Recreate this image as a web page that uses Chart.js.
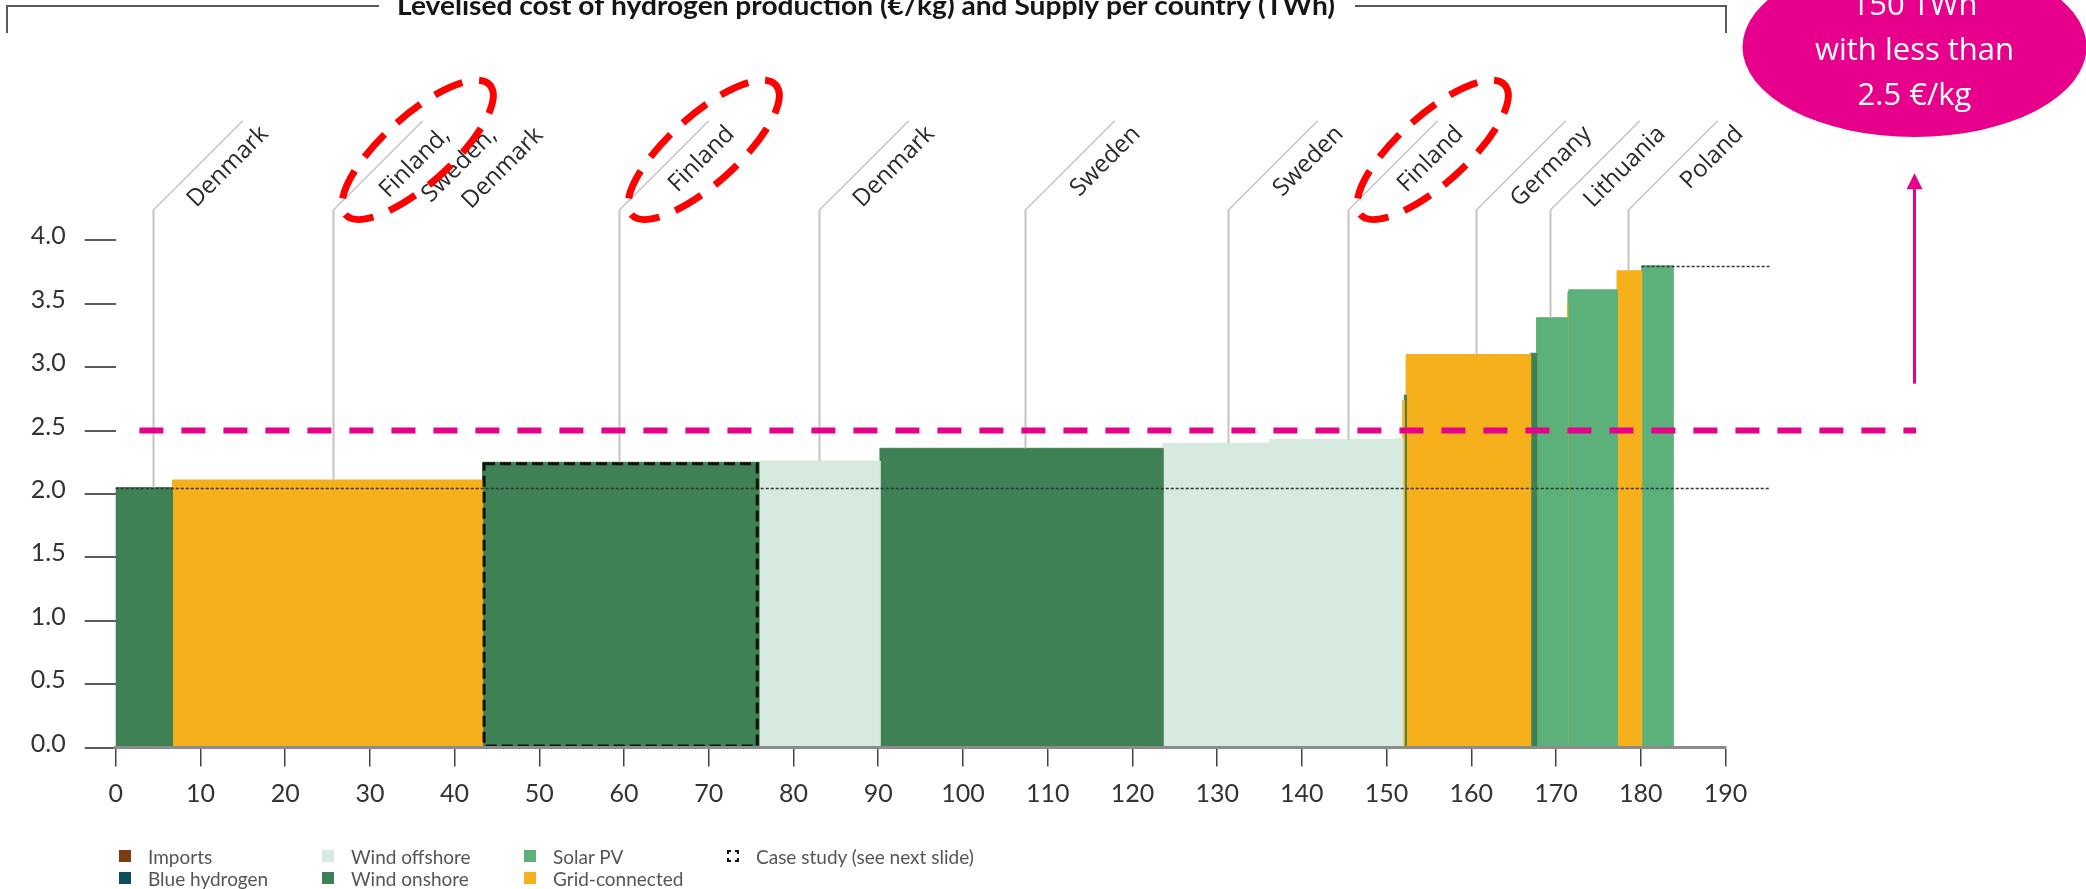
<!DOCTYPE html>
<html>
<head>
<meta charset="utf-8">
<script src="https://cdn.jsdelivr.net/npm/chart.js@4.4.1/dist/chart.umd.min.js"></script>
<style>
  html, body { margin: 0; padding: 0; background: #fff; }
  #wrap { position: relative; width: 2086px; height: 889px; overflow: hidden; }
  #c { position: absolute; left: 0; top: 0; }
  .item { position: absolute; height: 22px; display: flex; align-items: center; white-space: nowrap;
          font-family: Lato, sans-serif; font-size: 19px; color: #555; }
  .sw { display: block; width: 12px; height: 12px; margin-right: 17px; box-sizing: border-box; flex: none; line-height: 0; }
  .sw svg { display: block; }
</style>
</head>
<body>
<div id="wrap">
  <canvas id="c" width="2086" height="889"></canvas>
  <div id="legend"></div>
</div>
<script>
// Supply steps of the merit-order curve, left to right
const supplyTWh  = [6.7, 36.6, 32.6, 14.3, 33.4, 12.6, 15.1, 0.6, 0.2, 0.2, 14.7, 0.7, 3.6, 0.1, 0.1, 5.7, 2.9, 3.7];
const costEurKg  = [2.05, 2.11, 2.25, 2.26, 2.36, 2.40, 2.43, 2.44, 2.74, 2.78, 3.10, 3.11, 3.39, 3.51, 3.59, 3.61, 3.76, 3.80];
const technology = ['Wind onshore', 'Grid-connected', 'Wind onshore', 'Wind offshore', 'Wind onshore',
                    'Wind offshore', 'Wind offshore', 'Wind offshore', 'Grid-connected', 'Wind onshore',
                    'Grid-connected', 'Wind onshore', 'Solar PV', 'Grid-connected', 'Solar PV',
                    'Solar PV', 'Grid-connected', 'Solar PV'];
const caseStudyStep = 2;

// Country call-outs: position on the supply axis and text lines
const countryAt    = [4.4, 25.7, 59.4, 83.0, 107.3, 131.3, 145.5, 160.6, 169.3, 178.5];
const countryNames = [['Denmark'], ['Finland,', 'Sweden,', 'Denmark'], ['Finland'], ['Denmark'], ['Sweden'],
                      ['Sweden'], ['Finland'], ['Germany'], ['Lithuania'], ['Poland']];
const circledCountry = 'Finland';

// Axis ticks
const xTickValues = [0, 10, 20, 30, 40, 50, 60, 70, 80, 90, 100, 110, 120, 130, 140, 150, 160, 170, 180, 190];
const yTickValues = [0, 0.5, 1, 1.5, 2, 2.5, 3, 3.5, 4];

// Threshold highlight
const thresholdCost = 2.5;
const thresholdSupply = 150;

const legendItems = [
  ['Imports', 0, 0], ['Wind offshore', 1, 0], ['Solar PV', 2, 0], ['Case study (see next slide)', 3, 0],
  ['Blue hydrogen', 0, 1], ['Wind onshore', 1, 1], ['Grid-connected', 2, 1]
];

const techColor = {
  'Imports': '#7b3c12',
  'Blue hydrogen': '#0d4e5e',
  'Wind offshore': '#d6eadf',
  'Wind onshore': '#3e8154',
  'Solar PV': '#5cb07a',
  'Grid-connected': '#f6b01b'
};
const PINK = '#e6008c';

// cumulative step edges
const stepStart = [], stepEnd = [];
supplyTWh.reduce((acc, s) => { stepStart.push(+acc.toFixed(3)); stepEnd.push(+(acc + s).toFixed(3)); return acc + s; }, 0);

function costAt(x) {
  for (let i = 0; i < stepStart.length; i++) if (x >= stepStart[i] && x <= stepEnd[i]) return costEurKg[i];
  return 0;
}

function buildLegend() {
  const host = document.getElementById('legend');
  const colX = [119, 322, 524, 727], rowY = [845, 867];
  const corners = '<svg width="12" height="12" viewBox="0 0 12 12"><path d="M1 4V1H4M8 1H11V4M11 8V11H8M4 11H1V8" ' +
                  'fill="none" stroke="#111" stroke-width="2.2"/></svg>';
  legendItems.forEach(([name, c, r]) => {
    const d = document.createElement('div');
    d.className = 'item';
    d.style.left = colX[c] + 'px';
    d.style.top = rowY[r] + 'px';
    const sw = document.createElement('span');
    sw.className = 'sw';
    if (techColor[name]) sw.style.background = techColor[name];
    else sw.innerHTML = corners;
    d.appendChild(sw);
    d.appendChild(document.createTextNode(name));
    host.appendChild(d);
  });
}

const overlay = {
  id: 'overlay',
  afterDatasetsDraw(chart) {
    const { ctx, scales: { x, y } } = chart;
    const refEnd = 195.2;
    ctx.save();
    // min / max cost reference lines
    ctx.strokeStyle = '#333';
    ctx.lineWidth = 1.5;
    ctx.setLineDash([3, 2]);
    const last = costEurKg.length - 1;
    [[stepStart[0], costEurKg[0]], [stepStart[last], costEurKg[last]]].forEach(([x0, c]) => {
      const py = Math.round(y.getPixelForValue(c)) + 0.5;
      ctx.beginPath();
      ctx.moveTo(x.getPixelForValue(x0), py);
      ctx.lineTo(x.getPixelForValue(refEnd), py);
      ctx.stroke();
    });
    // case study outline
    ctx.strokeStyle = '#111';
    ctx.lineWidth = 3;
    ctx.setLineDash([11, 5]);
    const l = x.getPixelForValue(stepStart[caseStudyStep]) + 1.5;
    const r = x.getPixelForValue(stepEnd[caseStudyStep]) - 1.5;
    const t = y.getPixelForValue(costEurKg[caseStudyStep]) + 1.5;
    const b = y.getPixelForValue(0) - 1.5;
    ctx.strokeRect(l, t, r - l, b - t);
    ctx.restore();
  },
  afterDraw(chart) {
    const { ctx, scales: { x, y } } = chart;
    ctx.save();
    const elbowCost = 4.24;
    const diag = 89.3;
    const rad45 = Math.PI / 4;

    // country leaders and names
    countryAt.forEach((sx, i) => {
      const px = Math.round(x.getPixelForValue(sx)) + 0.5;
      const top = y.getPixelForValue(costAt(sx));
      const ey = y.getPixelForValue(elbowCost);
      ctx.strokeStyle = '#c4c4c4';
      ctx.setLineDash([]);
      ctx.lineWidth = 2;
      ctx.beginPath();
      ctx.moveTo(px, top);
      ctx.lineTo(px, ey);
      ctx.stroke();
      ctx.lineWidth = 1.5;
      ctx.beginPath();
      ctx.moveTo(px, ey);
      ctx.lineTo(px + diag, ey - diag);
      ctx.stroke();

      const lines = countryNames[i];
      ctx.save();
      ctx.translate(px, ey);
      ctx.rotate(-rad45);
      ctx.fillStyle = '#2a2a2a';
      ctx.font = '24px "Open Sans"';
      ctx.textAlign = 'right';
      ctx.textBaseline = 'alphabetic';
      lines.forEach((line, k) => {
        const extra = lines.length > 1 ? 2 : 0;
        ctx.fillText(line, 135 + 33 * k, 29 + extra + 33 * k);
      });
      ctx.restore();

      if (lines[0].startsWith(circledCountry)) {
        const u = 102, v = 17;
        const cx = px + Math.SQRT1_2 * (u + v);
        const cy = ey + Math.SQRT1_2 * (v - u);
        ctx.strokeStyle = '#ff0000';
        ctx.lineWidth = 7;
        ctx.setLineDash([30, 17]);
        ctx.beginPath();
        ctx.ellipse(cx, cy, 97, 34, -42 * Math.PI / 180, 0, Math.PI * 2);
        ctx.stroke();
      }
    });

    // threshold line
    ctx.strokeStyle = PINK;
    ctx.lineWidth = 6;
    ctx.setLineDash([24, 18]);
    const ty = y.getPixelForValue(thresholdCost);
    ctx.beginPath();
    ctx.moveTo(x.getPixelForValue(2.8), ty);
    ctx.lineTo(x.getPixelForValue(212.5), ty);
    ctx.stroke();

    // arrow up to the bubble
    const ax = Math.round(x.getPixelForValue(212.3)) + 0.5;
    const ay0 = y.getPixelForValue(2.87), ay1 = y.getPixelForValue(4.53);
    ctx.setLineDash([]);
    ctx.lineWidth = 3;
    ctx.beginPath();
    ctx.moveTo(ax, ay0);
    ctx.lineTo(ax, ay1 + 14);
    ctx.stroke();
    ctx.fillStyle = PINK;
    ctx.beginPath();
    ctx.moveTo(ax, ay1);
    ctx.lineTo(ax - 8, ay1 + 16);
    ctx.lineTo(ax + 8, ay1 + 16);
    ctx.closePath();
    ctx.fill();

    // bubble
    ctx.beginPath();
    ctx.ellipse(ax, 47, 172, 90, 0, 0, Math.PI * 2);
    ctx.fill();
    ctx.fillStyle = '#ffffff';
    ctx.font = '31px "Open Sans"';
    ctx.textAlign = 'center';
    ctx.textBaseline = 'alphabetic';
    [thresholdSupply + ' TWh', 'with less than', thresholdCost.toFixed(1) + ' €/kg']
      .forEach((s, k) => ctx.fillText(s, ax, 15 + 45 * k));

    // title with its frame
    ctx.strokeStyle = '#5a5a5a';
    ctx.lineWidth = 2;
    const fr = Math.round(x.getPixelForValue(190));
    ctx.beginPath();
    ctx.moveTo(7, 33); ctx.lineTo(7, 6); ctx.lineTo(379, 6);
    ctx.moveTo(1355, 6); ctx.lineTo(fr, 6); ctx.lineTo(fr, 33);
    ctx.stroke();
    const title = 'Levelised cost of hydrogen production (€/kg) and Supply per country (TWh)';
    ctx.font = 'bold 26px Lato';
    ctx.fillStyle = '#151515';
    ctx.textAlign = 'left';
    const w = ctx.measureText(title).width;
    ctx.translate(397, 15);
    ctx.scale(938 / w, 1);
    ctx.fillText(title, 0, 0);
    ctx.restore();
  }
};

function build() {
  buildLegend();
  // each step is a filled outline: left edge, top, right edge; the 1px edge stroke hides seams
  const datasets = supplyTWh.map((s, i) => ({
    label: technology[i],
    data: [
      { x: stepStart[i], y: 0 }, { x: stepStart[i], y: costEurKg[i] },
      { x: stepEnd[i], y: costEurKg[i] }, { x: stepEnd[i], y: 0 }
    ],
    fill: 'origin',
    backgroundColor: techColor[technology[i]],
    borderColor: techColor[technology[i]],
    borderWidth: 1,
    pointRadius: 0,
    tension: 0
  }));

  new Chart(document.getElementById('c'), {
    type: 'line',
    data: { datasets },
    plugins: [overlay],
    options: {
      responsive: false,
      animation: false,
      devicePixelRatio: 1,
      layout: { padding: { left: 0, top: 240.4, right: 360.5, bottom: 0 } },
      plugins: { legend: { display: false }, tooltip: { enabled: false }, title: { display: false } },
      scales: {
        x: {
          type: 'linear', min: 0, max: 190,
          afterBuildTicks: s => { s.ticks = xTickValues.map(v => ({ value: v })); },
          afterFit: s => { s.height = 141.5; },
          border: { display: true, color: '#8c8c8c', width: 3, z: 1 },
          grid: { drawOnChartArea: false, drawTicks: true, tickLength: 19, color: '#444', lineWidth: 1.5 },
          ticks: { padding: 12, color: '#333', font: { family: 'Lato', size: 25 }, maxRotation: 0, autoSkip: false }
        },
        y: {
          type: 'linear', min: 0, max: 4,
          afterBuildTicks: s => { s.ticks = yTickValues.map(v => ({ value: v })); },
          afterFit: s => { s.width = 115.7; },
          border: { display: false },
          grid: { drawOnChartArea: false, drawTicks: true, tickLength: 31, color: '#5a5a5a', lineWidth: 2 },
          ticks: { padding: 19, labelOffset: -4, color: '#333', font: { family: 'Lato', size: 25 },
                   callback: v => Number(v).toFixed(1) }
        }
      }
    }
  });
}

Promise.all(['25px Lato', 'bold 26px Lato', '24px "Open Sans"', '31px "Open Sans"', '19px Lato']
  .map(f => document.fonts.load(f))).then(build, build);
</script>
</body>
</html>
